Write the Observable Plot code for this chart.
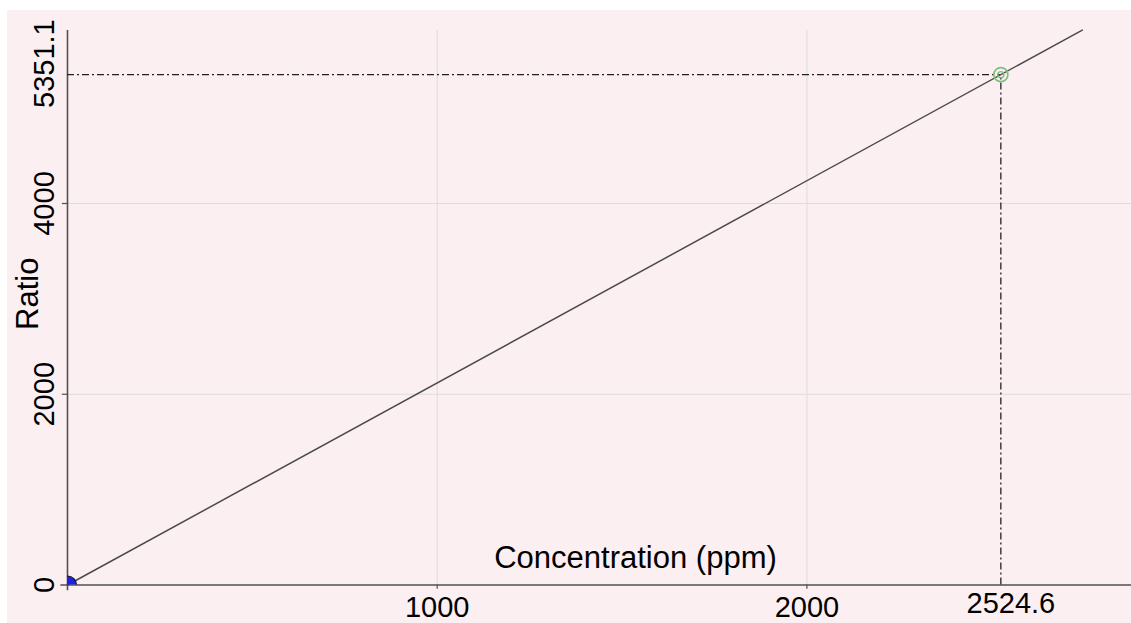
<!DOCTYPE html>
<html>
<head>
<meta charset="utf-8">
<script src="https://cdn.jsdelivr.net/npm/d3@7"></script>
<script src="https://cdn.jsdelivr.net/npm/@observablehq/plot@0.6"></script>
<style>
  html, body { margin: 0; padding: 0; background: #fff; }
  #chart svg { display: block; }
</style>
</head>
<body>
<div id="chart"></div>
<script>
// ---- data ----
const xTickValues = [1000, 2000];
const yTickValues = [0, 2000, 4000];
const sampleConc = [2524.6];
const sampleRatio = [5351.1];
const originConc = [0];
const originRatio = [0];
const fitConc = [0, 2745];
const fitRatio = [0, 5818.3];
const xLabel = "Concentration (ppm)";
const yLabel = "Ratio";

const samples = sampleConc.map((c, i) => ({c, r: sampleRatio[i]}));
const origin = originConc.map((c, i) => ({c, r: originRatio[i]}));
const fit = fitConc.map((c, i) => ({c, r: fitRatio[i]}));

const xMax = 2878, yMax = 5814;
const font = "'Liberation Sans', Arial, sans-serif";
const axisColor = "#505050";
const gridColor = "#dcdcdc";

const chart = Plot.plot({
  width: 1131,
  height: 623,
  marginLeft: 67,
  marginRight: 0,
  marginTop: 30,
  marginBottom: 38.5,
  x: {domain: [0, xMax], axis: null},
  y: {domain: [0, yMax], axis: null},
  style: `background: linear-gradient(#fff,#fff) 0 0/100% 10px no-repeat, linear-gradient(#fff,#fff) 0 0/7px 100% no-repeat, #fbeff2; font-family: ${font}; overflow: visible;`,
  marks: [
    // grid
    Plot.ruleX(xTickValues, {x: d => d, y1: 0, y2: yMax, stroke: gridColor, strokeWidth: 1}),
    Plot.ruleY(yTickValues.filter(d => d !== 0), {y: d => d, x1: 0, x2: xMax, stroke: gridColor, strokeWidth: 1}),
    // axes lines
    Plot.ruleY([0], {x1: -18, x2: xMax, stroke: axisColor, strokeWidth: 1.6}),
    Plot.ruleX([0], {y1: -60, y2: yMax, stroke: axisColor, strokeWidth: 1.6}),
    // tick marks
    Plot.ruleX(xTickValues, {x: d => d, y1: 0, y2: -45, stroke: axisColor, strokeWidth: 1.2}),
    Plot.ruleY(yTickValues.filter(d => d !== 0), {y: d => d, x1: -14, x2: 0, stroke: axisColor, strokeWidth: 1.2}),
    // dashed guide lines
    Plot.ruleY(samples, {y: "r", x1: 0, x2: "c", stroke: "#222", strokeWidth: 1.3, strokeDasharray: "7,3,2,3"}),
    Plot.ruleX(samples, {x: "c", y1: 0, y2: "r", stroke: "#222", strokeWidth: 1.3, strokeDasharray: "7,3,2,3"}),
    // calibration line
    Plot.line(fit, {x: "c", y: "r", stroke: "#4a4a4a", strokeWidth: 1.5}),
    // points
    Plot.dot(origin, {x: "c", y: "r", r: 9, fill: "#1f1fe8", stroke: "#111", strokeWidth: 1.2, clip: true}),
    Plot.dot(samples, {x: "c", y: "r", r: 7, fill: "none", stroke: "#7cc07c", strokeWidth: 1.7}),
    Plot.dot(samples, {x: "c", y: "r", r: 3, fill: "none", stroke: "#7cc07c", strokeWidth: 1.4}),
    // tick labels
    Plot.text(yTickValues, {y: d => d, text: d => String(d), frameAnchor: "left", dx: -23, rotate: -90,
      textAnchor: "middle", lineAnchor: "middle", fontSize: 29, fill: "#000"}),
    Plot.text(sampleRatio, {y: d => d, text: d => d.toFixed(1), frameAnchor: "left", dx: -23, dy: -11, rotate: -90,
      textAnchor: "middle", lineAnchor: "middle", fontSize: 29, fill: "#000"}),
    Plot.text(xTickValues, {x: d => d, text: d => String(d), frameAnchor: "bottom", dy: 23,
      textAnchor: "middle", lineAnchor: "middle", fontSize: 29, fill: "#000"}),
    Plot.text(sampleConc, {x: d => d, text: d => d.toFixed(1), frameAnchor: "bottom", dx: 10, dy: 19,
      textAnchor: "middle", lineAnchor: "middle", fontSize: 29, fill: "#000"}),
    // axis titles
    Plot.text([xLabel], {text: d => d, frameAnchor: "bottom", dx: 36, dy: -27,
      textAnchor: "middle", lineAnchor: "middle", fontSize: 31, fill: "#000"}),
    Plot.text([yLabel], {text: d => d, frameAnchor: "left", dx: -39, dy: -14, rotate: -90,
      textAnchor: "middle", lineAnchor: "middle", fontSize: 31, fill: "#000"})
  ]
});
document.getElementById("chart").appendChild(chart);
</script>
</body>
</html>
